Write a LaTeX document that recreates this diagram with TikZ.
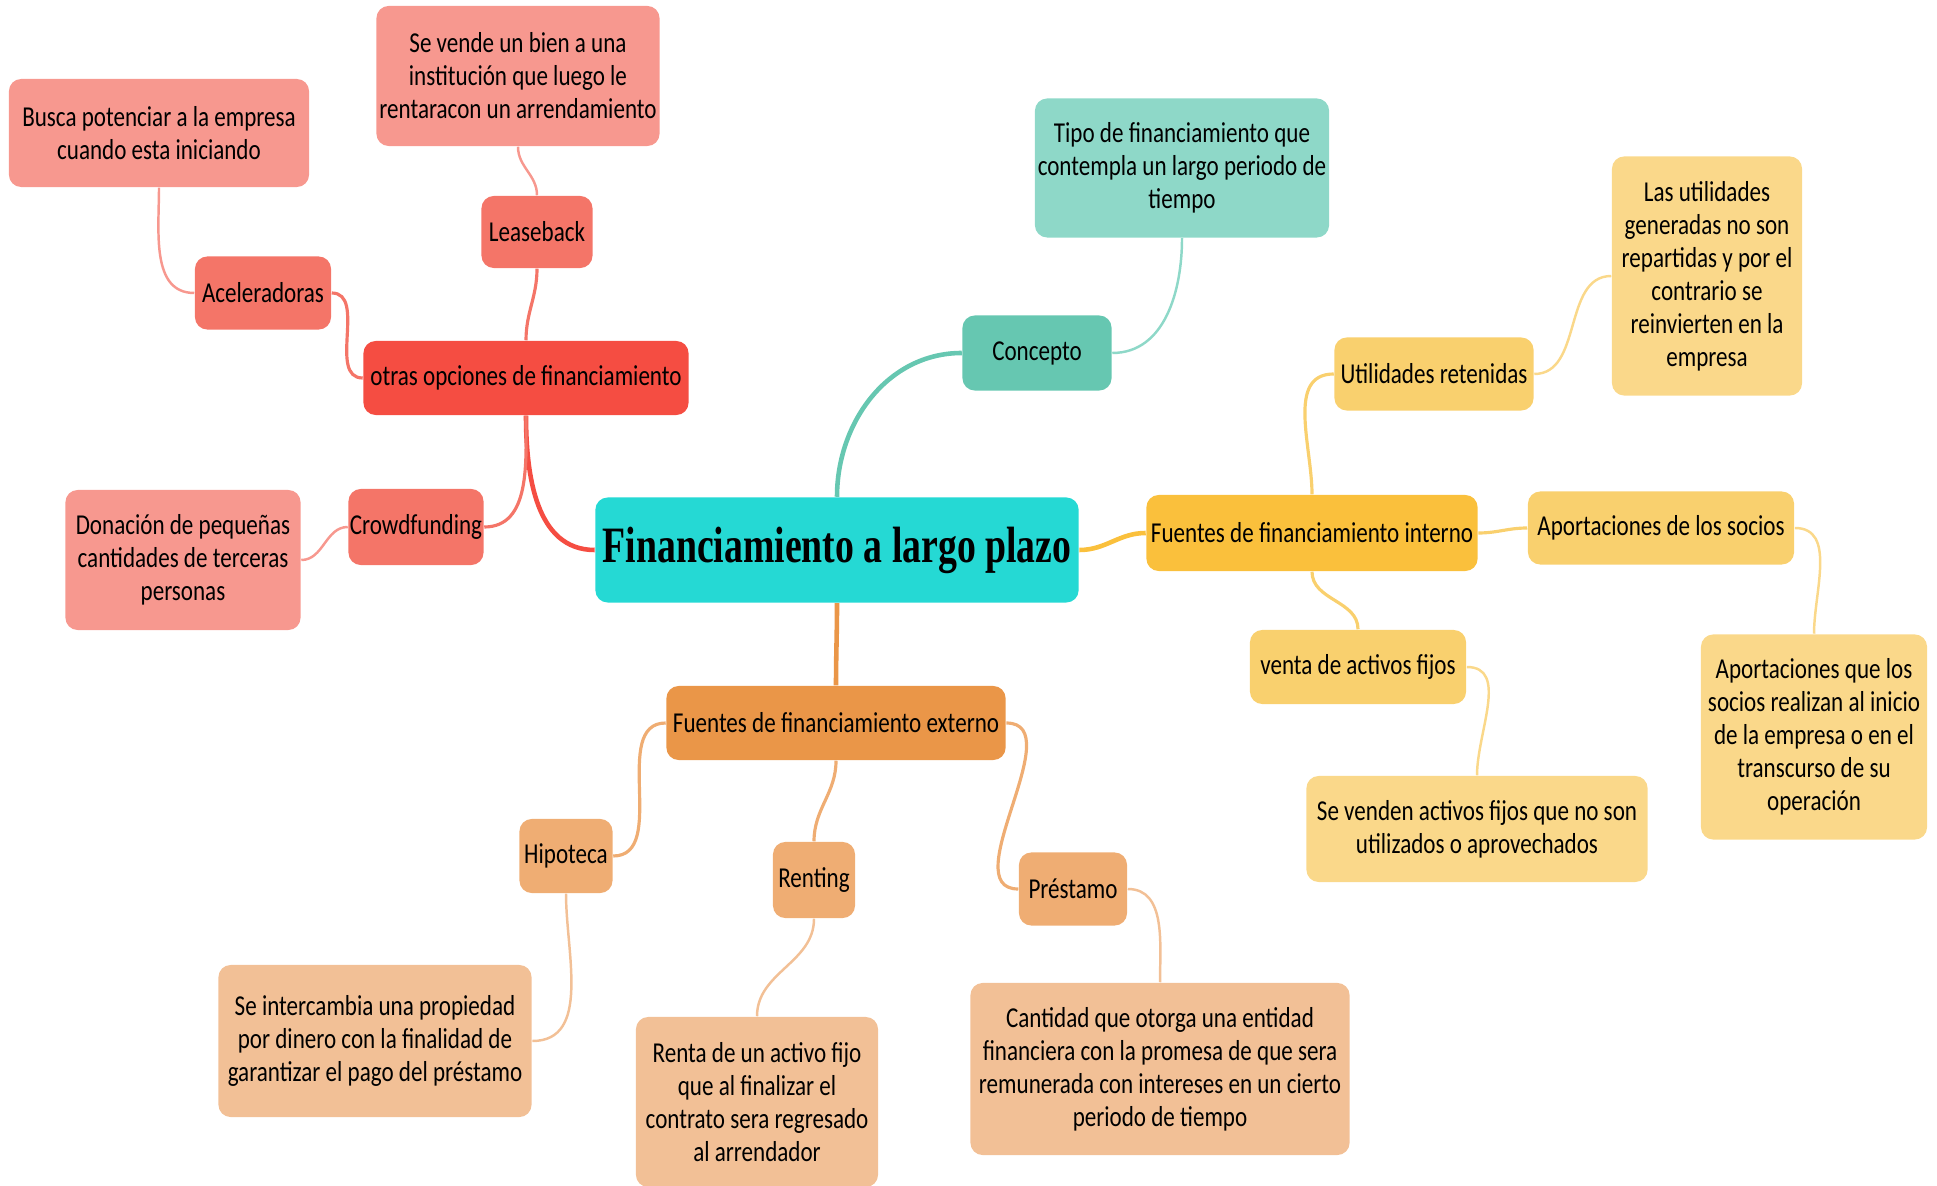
\documentclass[tikz,border=0pt]{standalone}
\usepackage{fontspec}
\usepackage{xcolor}
\usepackage{tikz}
\usetikzlibrary{positioning}

\newfontfamily\manofont[FakeStretch=0.8]{Carlito}
\newfontfamily\titulofont[FakeStretch=0.74]{Liberation Serif}

\definecolor{turquesa}{RGB}{37,217,212}
\definecolor{verdeA}{RGB}{102,199,177}
\definecolor{verdeB}{RGB}{142,216,200}
\definecolor{amarilloA}{RGB}{250,192,60}
\definecolor{amarilloB}{RGB}{249,208,110}
\definecolor{amarilloC}{RGB}{250,216,138}
\definecolor{naranjaA}{RGB}{234,150,72}
\definecolor{naranjaB}{RGB}{239,173,115}
\definecolor{naranjaC}{RGB}{242,192,150}
\definecolor{rojoA}{RGB}{245,77,66}
\definecolor{rojoB}{RGB}{244,117,104}
\definecolor{rojoC}{RGB}{247,152,143}

\begin{document}
\begin{tikzpicture}[x=0.01cm,y=-0.01cm,
   caja/.style={rectangle,rounded corners=3.5pt,inner sep=0pt,align=center,
     font=\manofont\fontsize{8.2}{9.4}\selectfont},
   raiz/.style={caja,fill=turquesa,font=\titulofont\bfseries\fontsize{14.5}{16}\selectfont},
   concepto/.style={caja,fill=verdeA},
   conceptod/.style={caja,fill=verdeB},
   interno/.style={caja,fill=amarilloA},
   internoh/.style={caja,fill=amarilloB},
   internod/.style={caja,fill=amarilloC},
   externo/.style={caja,fill=naranjaA},
   externoh/.style={caja,fill=naranjaB},
   externod/.style={caja,fill=naranjaC},
   otras/.style={caja,fill=rojoA},
   otrash/.style={caja,fill=rojoB},
   otrasd/.style={caja,fill=rojoC},
   rama/.style={line width=1.3pt},
   subrama/.style={line width=0.9pt},
   hoja/.style={line width=0.7pt}]

  \useasboundingbox (0,0) rectangle (1937,1186);

  \node[raiz,minimum width=4.83cm,minimum height=1.05cm] (raiz) at (837,550) {Financiamiento a largo plazo};

  % concepto
  \node[concepto,minimum width=1.49cm,minimum height=0.75cm] (conc) at (1037,353) {Concepto};
  \node[conceptod,minimum width=2.94cm,minimum height=1.39cm] (concd) at (1182,168)
    {Tipo de financiamiento que\\contempla un largo periodo de\\tiempo};

  % fuentes internas
  \node[interno,minimum width=3.31cm,minimum height=0.76cm] (int) at (1312,533) {Fuentes de financiamiento interno};
  \node[internoh,minimum width=1.99cm,minimum height=0.73cm] (util) at (1434,374) {Utilidades retenidas};
  \node[internod,minimum width=1.90cm,minimum height=2.39cm] (utild) at (1707,276)
    {Las utilidades\\generadas no son\\repartidas y por el\\contrario se\\reinvierten en la\\empresa};
  \node[internoh,minimum width=2.66cm,minimum height=0.73cm] (apor) at (1661,528) {Aportaciones de los socios};
  \node[internod,minimum width=2.26cm,minimum height=2.05cm] (apord) at (1814,737)
    {Aportaciones que los\\socios realizan al inicio\\de la empresa o en el\\transcurso de su\\operación};
  \node[internoh,minimum width=2.16cm,minimum height=0.74cm] (venta) at (1358,667) {venta de activos fijos};
  \node[internod,minimum width=3.41cm,minimum height=1.06cm] (ventad) at (1477,829)
    {Se venden activos fijos que no son\\utilizados o aprovechados};

  % fuentes externas
  \node[externo,minimum width=3.39cm,minimum height=0.74cm] (ext) at (836,723) {Fuentes de financiamiento externo};
  \node[externoh,minimum width=0.93cm,minimum height=0.74cm] (hip) at (566,856) {Hipoteca};
  \node[externoh,minimum width=0.82cm,minimum height=0.76cm] (rent) at (814,880) {Renting};
  \node[externoh,minimum width=1.08cm,minimum height=0.73cm] (prest) at (1073,889) {Préstamo};
  \node[externod,minimum width=3.13cm,minimum height=1.52cm] (hipd) at (375,1041)
    {Se intercambia una propiedad\\por dinero con la finalidad de\\garantizar el pago del préstamo};
  \node[externod,minimum width=2.42cm,minimum height=1.70cm] (rentd) at (757,1102)
    {Renta de un activo fijo\\que al finalizar el\\contrato sera regresado\\al arrendador};
  \node[externod,minimum width=3.79cm,minimum height=1.72cm] (prestd) at (1160,1069)
    {Cantidad que otorga una entidad\\financiera con la promesa de que sera\\remunerada con intereses en un cierto\\periodo de tiempo};

  % otras opciones
  \node[otras,minimum width=3.25cm,minimum height=0.74cm] (otras) at (526,378) {otras opciones de financiamiento};
  \node[otrash,minimum width=1.11cm,minimum height=0.72cm] (lease) at (537,232) {Leaseback};
  \node[otrasd,minimum width=2.83cm,minimum height=1.40cm] (leased) at (518,76)
    {Se vende un bien a una\\institución que luego le\\rentaracon un arrendamiento};
  \node[otrash,minimum width=1.36cm,minimum height=0.73cm] (acel) at (263,293) {Aceleradoras};
  \node[otrasd,minimum width=3.00cm,minimum height=1.08cm] (aceld) at (159,133)
    {Busca potenciar a la empresa\\cuando esta iniciando};
  \node[otrash,minimum width=1.35cm,minimum height=0.76cm] (crowd) at (416,527) {Crowdfunding};
  \node[otrasd,minimum width=2.35cm,minimum height=1.40cm] (crowdd) at (183,560)
    {Donación de pequeñas\\cantidades de terceras\\personas};

  \foreach \a/\sal/\ent/\col in {conc/90/180/verdeA,int/0/180/amarilloA,ext/-90/90/naranjaA,otras/180/-90/rojoA}
    \draw[rama,\col] (raiz) to[out=\sal,in=\ent] (\a);

  \foreach \de/\a/\sal/\ent/\col in {int/util/90/180/amarilloB,int/apor/0/180/amarilloB,int/venta/-90/90/amarilloB,
      ext/hip/180/0/naranjaB,ext/rent/-90/90/naranjaB,ext/prest/0/180/naranjaB,
      otras/lease/90/-90/rojoB,otras/acel/180/0/rojoB,otras/crowd/-90/0/rojoB}
    \draw[subrama,\col] (\de) to[out=\sal,in=\ent] (\a);

  \foreach \de/\a/\sal/\ent/\col in {conc/concd/0/-90/verdeB,util/utild/0/180/amarilloC,apor/apord/0/90/amarilloC,
      venta/ventad/0/90/amarilloC,hip/hipd/-90/0/naranjaC,rent/rentd/-90/90/naranjaC,prest/prestd/0/90/naranjaC,
      lease/leased/90/-90/rojoC,acel/aceld/180/-90/rojoC,crowd/crowdd/180/0/rojoC}
    \draw[hoja,\col] (\de) to[out=\sal,in=\ent] (\a);
\end{tikzpicture}
\end{document}
